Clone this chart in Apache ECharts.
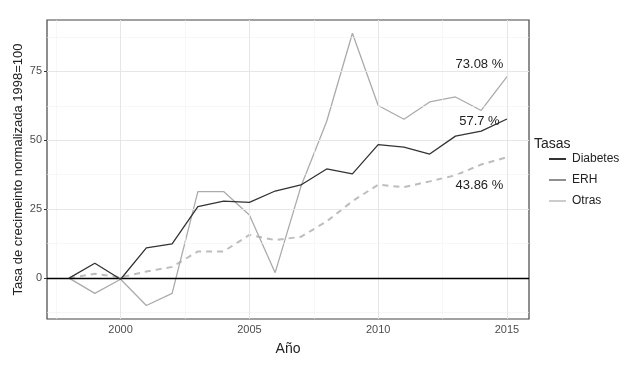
<!DOCTYPE html>
<html>
<head>
<meta charset="utf-8">
<script src="https://cdn.jsdelivr.net/npm/echarts@6/dist/echarts.min.js"></script>
<style>
html,body{margin:0;padding:0;background:#fff;}
#chart{width:627px;height:370px;}
</style>
</head>
<body>
<div id="chart"></div>
<script>
const years = [1998,1999,2000,2001,2002,2003,2004,2005,2006,2007,2008,2009,2010,2011,2012,2013,2014,2015];
const diabetes = [0, 5.4, -0.4, 11.0, 12.4, 25.9, 27.9, 27.5, 31.6, 33.8, 39.6, 37.8, 48.4, 47.5, 45.0, 51.5, 53.3, 57.7];
const erh = [0, 1.6, 0.3, 2.4, 4.1, 9.7, 9.7, 15.7, 13.8, 15.0, 20.6, 27.9, 33.9, 33.0, 35.1, 37.3, 41.2, 43.86];
const otras = [0, -5.5, -0.4, -9.9, -5.5, 31.4, 31.4, 22.9, 2.0, 33.2, 56.8, 88.8, 62.6, 57.6, 63.9, 65.7, 60.8, 73.08];
const seriesNames = ['Diabetes', 'ERH', 'Otras'];
const xTicks = [2000, 2005, 2010, 2015];
const xMinor = [1997.5, 2002.5, 2007.5, 2012.5];
const yTicks = [0, 25, 50, 75];
const yMinor = [-12.5, 12.5, 37.5, 62.5, 87.5];
const annotLabels = ['73.08 %', '57.7 %', '43.86 %'];
const annotX = [2013.93, 2013.93, 2013.93];
const annotY = [77.4, 56.7, 33.5];

const pair = (arr) => years.map((y, i) => [y, arr[i]]);
const FONT = 'Liberation Sans';

const gridLines = [];
xMinor.forEach(v => gridLines.push({xAxis: v, lineStyle: {color: '#f2f2f2', width: 0.6, type: 'solid'}}));
yMinor.forEach(v => gridLines.push({yAxis: v, lineStyle: {color: '#f2f2f2', width: 0.6, type: 'solid'}}));
xTicks.forEach(v => gridLines.push({xAxis: v, lineStyle: {color: '#e6e6e6', width: 1, type: 'solid'}}));
yTicks.forEach(v => gridLines.push({yAxis: v, lineStyle: {color: '#e6e6e6', width: 1, type: 'solid'}}));

const chart = echarts.init(document.getElementById('chart'), null, {renderer: 'canvas'});
chart.setOption({
  animation: false,
  backgroundColor: '#ffffff',
  textStyle: {fontFamily: FONT},
  grid: {left: 47, right: 98, top: 20, bottom: 51, show: true, borderColor: '#444444', borderWidth: 1.2, backgroundColor: 'transparent', containLabel: false, outerBoundsMode: 'none'},
  title: {text: 'Tasas', left: 534, top: 137, padding: 0, textStyle: {fontFamily: FONT, fontSize: 14, fontWeight: 'normal', color: '#222'}},
  legend: {
    data: seriesNames,
    orient: 'vertical',
    left: 549, top: 153,
    itemWidth: 17, itemHeight: 2, itemGap: 9,
    icon: 'rect',
    padding: 0,
    textStyle: {fontFamily: FONT, fontSize: 12, color: '#222', padding: [0,0,0,1]},
    selectedMode: false
  },
  xAxis: {
    type: 'value', min: 1997.143, max: 2015.855,
    axisLine: {show: false},
    splitLine: {show: false},
    axisTick: {show: true, length: 3, customValues: xTicks, lineStyle: {color: '#333', width: 1}},
    axisLabel: {customValues: xTicks, color: '#4d4d4d', fontSize: 11, margin: 5, fontFamily: FONT, formatter: v => String(v)},
    name: 'Año', nameLocation: 'middle', nameGap: 23, nameMoveOverlap: false,
    nameTextStyle: {fontFamily: FONT, fontSize: 14, color: '#222'}
  },
  yAxis: {
    type: 'value', min: -14.8, max: 93.6,
    axisLine: {show: false},
    splitLine: {show: false},
    axisTick: {show: true, length: 3, customValues: yTicks, lineStyle: {color: '#333', width: 1}},
    axisLabel: {customValues: yTicks, color: '#4d4d4d', fontSize: 11, margin: 5, fontFamily: FONT, formatter: v => String(v)},
    name: 'Tasa de crecimeinto normalizada 1998=100', nameLocation: 'middle', nameGap: 22, nameMoveOverlap: false,
    nameTextStyle: {fontFamily: FONT, fontSize: 13, color: '#222'}
  },
  series: [
    {
      name: 'grid', type: 'line', data: [], z: 1, silent: true,
      markLine: {silent: true, symbol: ['none','none'], label: {show: false}, animation: false, data: gridLines}
    },
    {
      name: 'ERH', type: 'line', data: pair(erh), showSymbol: false, symbol: 'none', z: 3,
      color: '#8f8f8f', lineStyle: {color: '#bdbdbd', width: 2, type: [6, 5]}
    },
    {
      name: 'Otras', type: 'line', data: pair(otras), showSymbol: false, symbol: 'none', z: 4,
      color: '#cccccc', lineStyle: {color: '#ababab', width: 1.3},
      markLine: {silent: true, symbol: ['none','none'], label: {show: false}, animation: false,
        data: [{yAxis: 0, lineStyle: {color: '#000000', width: 1.3, type: 'solid'}}]},
      markPoint: {
        silent: true, symbol: 'circle', symbolSize: 0, animation: false,
        label: {show: true, position: 'inside', formatter: '{b}', color: '#222', fontSize: 13, fontFamily: FONT},
        data: annotLabels.map((t, i) => ({name: t, coord: [annotX[i], annotY[i]]}))
      }
    },
    {
      name: 'Diabetes', type: 'line', data: pair(diabetes), showSymbol: false, symbol: 'none', z: 10,
      color: '#333333', lineStyle: {color: '#333333', width: 1.3}
    }
  ]
});
</script>
</body>
</html>
